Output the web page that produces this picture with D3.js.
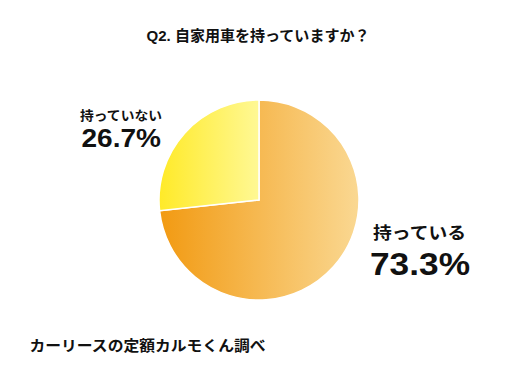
<!DOCTYPE html>
<html>
<head>
<meta charset="utf-8">
<script src="https://cdn.jsdelivr.net/npm/d3@7"></script>
<style>
  body { margin: 0; background: #fff; }
  text { font-family: "Liberation Sans", "Noto Sans CJK JP", sans-serif; font-weight: bold; fill: #111; }
</style>
</head>
<body>
<div id="chart"></div>
<script>
const categories = ['持っている', '持っていない'];
const values = [73.3, 26.7];
const gradientStops = [['#F29A12', '#FAD892'], ['#FFEA28', '#FFF894']];
const title = 'Q2. 自家用車を持っていますか？';
const source = 'カーリースの定額カルモくん調べ';

const width = 518, height = 378;
const cx = 259, cy = 200, radius = 100;

const svg = d3.select('#chart')
    .append('svg')
    .attr('width', width)
    .attr('height', height);

// Gradients, horizontal across each slice
const defs = svg.append('defs');
const pie = d3.pie().sort(null).value(d => d.value);
const arcs = pie(categories.map((c, i) => ({ name: c, value: values[i] })));
const arc = d3.arc().innerRadius(0).outerRadius(radius);

arcs.forEach((a, i) => {
    const g = defs.append('linearGradient')
        .attr('id', 'grad' + i)
        .attr('x1', '0%').attr('x2', '100%')
        .attr('y1', '0%').attr('y2', '0%');
    g.append('stop').attr('offset', '0%').attr('stop-color', gradientStops[i][0]);
    g.append('stop').attr('offset', '100%').attr('stop-color', gradientStops[i][1]);
});

svg.append('g')
    .attr('transform', `translate(${cx},${cy})`)
    .selectAll('path')
    .data(arcs)
    .enter()
    .append('path')
    .attr('d', arc)
    .attr('fill', (d, i) => `url(#grad${i})`)
    .attr('stroke', '#fff')
    .attr('stroke-width', 1.5);

// helper for fitted text
function addText(x, y, size, len, str) {
    svg.append('text')
        .attr('x', x).attr('y', y)
        .attr('textLength', len)
        .attr('lengthAdjust', 'spacingAndGlyphs')
        .style('font-size', size + 'px')
        .text(str);
}

// Title
addText(146.5, 41, 15, 223, title);

// Labels
addText(80, 119.5, 13, 82, categories[1]);
addText(81.5, 147, 25, 79.5, values[1].toFixed(1) + '%');

addText(373, 239, 17, 93, categories[0]);
addText(370, 275, 31, 100, values[0].toFixed(1) + '%');

// Source
addText(29.5, 351, 14.5, 236, source);
</script>
</body>
</html>
